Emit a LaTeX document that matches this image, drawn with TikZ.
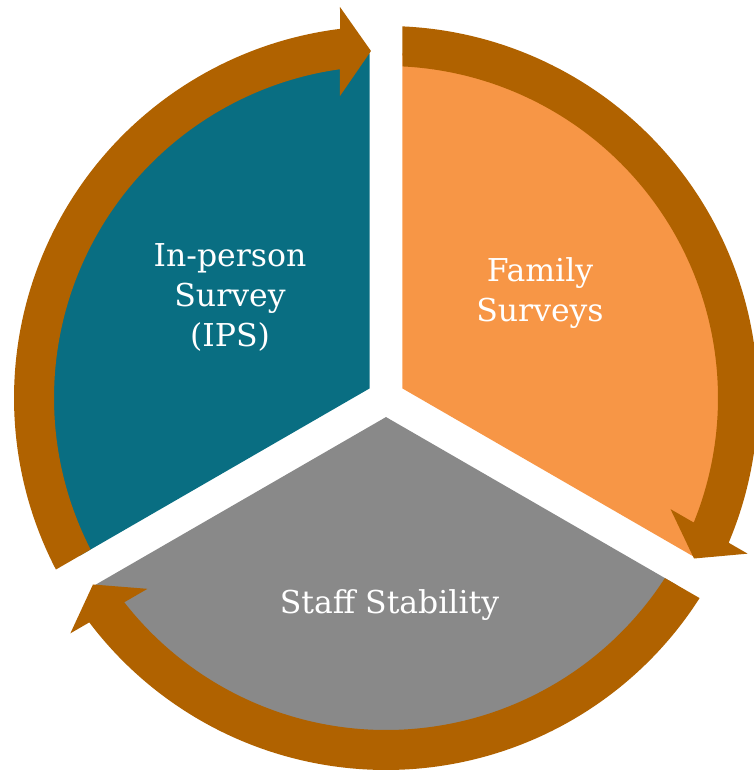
\documentclass[tikz,border=0pt]{standalone}
\usepackage{fontspec}
\setmainfont{DejaVu Serif}
\definecolor{tealc}{HTML}{096E82}
\definecolor{orangec}{HTML}{F79646}
\definecolor{grayc}{HTML}{898989}
\definecolor{ringc}{HTML}{B06200}
\tikzset{
  lbl/.style={text=white, align=center, inner sep=0pt, font=\fontsize{31.5}{40}\selectfont},
  ringarrow/.style={fill=ringc, draw=none},
}
\begin{document}
\begin{tikzpicture}[x=1pt,y=1pt]
\useasboundingbox (-386,-374) rectangle (368,398);
% sectors
\fill[tealc] (150:19.05) -- (92.74:345) arc[start angle=92.74,end angle=207.26,radius=345] -- cycle;
\fill[orangec] (30:19.05) -- (-27.26:345) arc[start angle=-27.26,end angle=87.26,radius=345] -- cycle;
\fill[grayc] (270:19.05) -- (212.74:345) arc[start angle=212.74,end angle=327.26,radius=345] -- cycle;
% circular arrows
\foreach \r in {0,-120,-240}{
  \begin{scope}[rotate=\r]
    \fill[ringarrow] (207.46:372) arc[start angle=207.46,end angle=97.10,radius=372]
      -- (-46,391) -- (-15,347) -- (-46,302) -- (97.97:332)
      arc[start angle=97.97,end angle=207.15,radius=332] -- cycle;
  \end{scope}
}
% labels
\node[lbl] (ips) at (-156,101) {In-person\\Survey\\(IPS)};
\node[lbl] (fam) at (154,105) {Family\\Surveys};
\node[lbl] (staff) at (3.5,-207) {Staff Stability};
\end{tikzpicture}
\end{document}
